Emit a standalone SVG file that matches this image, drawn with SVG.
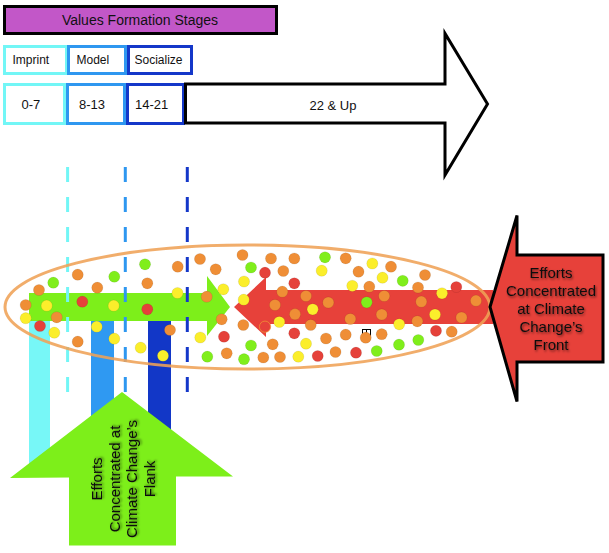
<svg xmlns="http://www.w3.org/2000/svg" width="609" height="553" viewBox="0 0 609 553">
<defs>
<style>
.t{font-family:"Liberation Sans",Arial,sans-serif;fill:#111}
.box{fill:#fff;stroke-width:3}
.dash{stroke-width:3;stroke-dasharray:15 15;fill:none}
.o{fill:#EF8E36}.y{fill:#FBEE2B}.g{fill:#80EE1B}.r{fill:#E5413A}
.dots circle{stroke:#000;stroke-opacity:0.08;stroke-width:1}
</style>
<filter id="sh" x="-20%" y="-20%" width="140%" height="140%">
<feDropShadow dx="1" dy="1.5" stdDeviation="1.3" flood-color="#000" flood-opacity="0.55"/>
</filter>
</defs>
<rect width="609" height="553" fill="#fff"/>

<g id="title">
<rect x="4.5" y="6.5" width="272" height="27" fill="#C257C8" stroke="#000" stroke-width="3"/>
<text class="t" x="140" y="25" font-size="14" text-anchor="middle">Values Formation Stages</text>
</g>

<g id="imprint">
<rect class="box" x="4.5" y="46.5" width="62" height="27" stroke="#72F6F6"/>
<text class="t" x="12.5" y="64" font-size="12">Imprint</text>
</g>
<g id="model">
<rect class="box" x="68.5" y="46.5" width="57" height="27" stroke="#2E97F0"/>
<text class="t" x="76.5" y="64" font-size="12">Model</text>
</g>
<g id="socialize">
<rect class="box" x="128.5" y="46.5" width="63" height="27" stroke="#1437C9"/>
<text class="t" x="134.5" y="64" font-size="12">Socialize</text>
</g>

<g id="age0-7">
<rect class="box" x="4.5" y="84.5" width="60" height="39" stroke="#72F6F6"/>
<text class="t" x="21.5" y="109" font-size="13">0-7</text>
</g>
<g id="age8-13">
<rect class="box" x="67.5" y="84.5" width="57" height="39" stroke="#2E97F0"/>
<text class="t" x="79" y="109" font-size="13">8-13</text>
</g>
<g id="age14-21">
<rect class="box" x="127.5" y="84.5" width="56" height="39" stroke="#1437C9"/>
<text class="t" x="135" y="109" font-size="13">14-21</text>
</g>
<g id="age22up">
<polygon points="185.5,84 445,84 445,33.5 487.5,104 445,175 445,123 185.5,123" fill="#fff" stroke="#000" stroke-width="3" stroke-linejoin="miter"/>
<text class="t" x="333" y="110" font-size="13" text-anchor="middle">22 &amp; Up</text>
</g>

<g id="bars">
<rect x="29" y="300" width="21" height="170" fill="#77F7F7"/>
<rect x="91" y="300" width="23" height="150" fill="#2F99F2"/>
<rect x="148" y="300" width="23" height="150" fill="#1237C7"/>
</g>

<g id="green-arrow">
<polygon points="29,293 207,293 207,276 230,307 207,336 207,321 29,321" fill="#7DEF1A"/>
</g>
<g id="red-arrow">
<polygon points="234,307 266,277 266,290 493,290 493,324 266,324 266,337" fill="#E7413A"/>
</g>

<g id="connectors">
<line class="dash" x1="67.6" y1="167" x2="67.6" y2="393" stroke="#72F6F6"/>
<line class="dash" x1="125.3" y1="167" x2="125.3" y2="393" stroke="#2E97F0"/>
<line class="dash" x1="187.3" y1="167" x2="187.3" y2="393" stroke="#1437C9"/>
</g>

<g id="ellipse">
<ellipse cx="247.5" cy="307" rx="242.5" ry="62" fill="none" stroke="#EFA256" stroke-opacity="0.88" stroke-width="3"/>
</g>

<rect x="362.5" y="329.5" width="8" height="8" fill="#fff" stroke="#000" stroke-width="1"/>
<line x1="366.5" y1="330" x2="366.5" y2="333" stroke="#000" stroke-width="1"/>

<g class="dots" id="dots">
<circle class="o" cx="39" cy="290" r="5.6"/>
<circle class="o" cx="77.7" cy="274.7" r="5.6"/>
<circle class="o" cx="97.3" cy="287.7" r="5.6"/>
<circle class="o" cx="147.3" cy="283.3" r="5.6"/>
<circle class="o" cx="25.7" cy="305" r="5.6"/>
<circle class="o" cx="56.7" cy="317.3" r="5.6"/>
<circle class="o" cx="77.7" cy="341.7" r="5.6"/>
<circle class="o" cx="170" cy="330" r="5.6"/>
<circle class="o" cx="177.7" cy="266.7" r="5.6"/>
<circle class="o" cx="200" cy="259" r="5.6"/>
<circle class="o" cx="215.7" cy="269.3" r="5.6"/>
<circle class="o" cx="206.7" cy="296.7" r="5.6"/>
<circle class="o" cx="221.7" cy="319.3" r="5.6"/>
<circle class="o" cx="226.7" cy="353.3" r="5.6"/>
<circle class="o" cx="242.5" cy="255" r="5.6"/>
<circle class="o" cx="243.3" cy="325" r="5.6"/>
<circle class="o" cx="271" cy="258.5" r="5.6"/>
<circle class="o" cx="294.3" cy="258.5" r="5.6"/>
<circle class="o" cx="283.3" cy="271" r="5.6"/>
<circle class="o" cx="282.3" cy="291.7" r="5.6"/>
<circle class="o" cx="306" cy="296" r="5.6"/>
<circle class="o" cx="328.3" cy="302.5" r="5.6"/>
<circle class="o" cx="275" cy="305" r="5.6"/>
<circle class="o" cx="295" cy="314.2" r="5.6"/>
<circle class="o" cx="310.7" cy="325" r="5.6"/>
<circle class="o" cx="272.7" cy="344.3" r="5.6"/>
<circle class="o" cx="263.3" cy="357.5" r="5.6"/>
<circle class="o" cx="280" cy="357" r="5.6"/>
<circle class="o" cx="345.7" cy="258.3" r="5.6"/>
<circle class="o" cx="358.5" cy="271.7" r="5.6"/>
<circle class="o" cx="391" cy="266.7" r="5.6"/>
<circle class="o" cx="425" cy="275" r="5.6"/>
<circle class="o" cx="369.3" cy="286.7" r="5.6"/>
<circle class="o" cx="418" cy="287.5" r="5.6"/>
<circle class="o" cx="384.2" cy="296" r="5.6"/>
<circle class="o" cx="421.3" cy="301.7" r="5.6"/>
<circle class="o" cx="476" cy="300.7" r="5.6"/>
<circle class="o" cx="350.3" cy="319" r="5.6"/>
<circle class="o" cx="381.7" cy="314.5" r="5.6"/>
<circle class="o" cx="417.3" cy="321.3" r="5.6"/>
<circle class="o" cx="461.5" cy="317.5" r="5.6"/>
<circle class="o" cx="451.7" cy="331.7" r="5.6"/>
<circle class="o" cx="326" cy="338.5" r="5.6"/>
<circle class="o" cx="345.7" cy="334.7" r="5.6"/>
<circle class="o" cx="365.7" cy="337.7" r="5.6"/>
<circle class="o" cx="381.7" cy="334.2" r="5.6"/>
<circle class="o" cx="335.5" cy="352" r="5.6"/>

<circle class="y" cx="46.7" cy="305.7" r="5.6"/>
<circle class="y" cx="113.7" cy="305.7" r="5.6"/>
<circle class="y" cx="25.7" cy="318.2" r="5.6"/>
<circle class="y" cx="54.3" cy="332.7" r="5.6"/>
<circle class="y" cx="96.7" cy="326.7" r="5.6"/>
<circle class="y" cx="114.3" cy="338.7" r="5.6"/>
<circle class="y" cx="140.7" cy="347.7" r="5.6"/>
<circle class="y" cx="163" cy="355.7" r="5.6"/>
<circle class="y" cx="177.5" cy="293" r="5.6"/>
<circle class="y" cx="223.3" cy="289.3" r="5.6"/>
<circle class="y" cx="200.3" cy="337.5" r="5.6"/>
<circle class="y" cx="244" cy="281.5" r="5.6"/>
<circle class="y" cx="243.7" cy="299.7" r="5.6"/>
<circle class="y" cx="321.7" cy="270.7" r="5.6"/>
<circle class="y" cx="312.7" cy="309.3" r="5.6"/>
<circle class="y" cx="279.3" cy="322" r="5.6"/>
<circle class="y" cx="306" cy="343.7" r="5.6"/>
<circle class="y" cx="298.3" cy="356.7" r="5.6"/>
<circle class="y" cx="372.3" cy="263.5" r="5.6"/>
<circle class="y" cx="382.5" cy="277.7" r="5.6"/>
<circle class="y" cx="352.3" cy="285.8" r="5.6"/>
<circle class="y" cx="442" cy="293.3" r="5.6"/>
<circle class="y" cx="435" cy="314.5" r="5.6"/>
<circle class="y" cx="399.2" cy="324.3" r="5.6"/>

<circle class="g" cx="53.3" cy="282.7" r="5.6"/>
<circle class="g" cx="114.3" cy="276.7" r="5.6"/>
<circle class="g" cx="145" cy="264.3" r="5.6"/>
<circle class="g" cx="207.3" cy="356.7" r="5.6"/>
<circle class="g" cx="244" cy="359.2" r="5.6"/>
<circle class="g" cx="251" cy="267.5" r="5.6"/>
<circle class="g" cx="251" cy="345.5" r="5.6"/>
<circle class="g" cx="325" cy="257.3" r="5.6"/>
<circle class="g" cx="402.7" cy="280.8" r="5.6"/>
<circle class="g" cx="366.7" cy="302.3" r="5.6"/>
<circle class="g" cx="418.3" cy="340" r="5.6"/>
<circle class="g" cx="399" cy="344.7" r="5.6"/>
<circle class="g" cx="376.7" cy="351" r="5.6"/>

<circle class="r" cx="82.3" cy="301.7" r="5.6"/>
<circle class="r" cx="147.3" cy="309.3" r="5.6"/>
<circle class="r" cx="40" cy="326" r="5.6"/>
<circle class="r" cx="224" cy="336.7" r="5.6"/>
<circle class="r" cx="265" cy="272.7" r="5.6"/>
<circle class="r" cx="294.3" cy="283.3" r="5.6"/>
<circle class="r" cx="265" cy="326.7" r="5.6" style="stroke:#EF8E36;stroke-opacity:0.8"/>
<circle class="r" cx="294.3" cy="333.3" r="5.6"/>
<circle class="r" cx="317.7" cy="356" r="5.6"/>
<circle class="r" cx="356" cy="352.7" r="5.6"/>
<circle class="r" cx="456.3" cy="287" r="5.6"/>
<circle class="r" cx="436" cy="330.8" r="5.6"/>
</g>

<g id="front-arrow">
<polygon points="490,307 517,215.5 517,255 603,255 603,362 517,362 517,401.5" fill="#E7413A" stroke="#000" stroke-width="3" stroke-linejoin="miter"/>
<g filter="url(#sh)" class="t" font-size="15" text-anchor="middle">
<text x="551" y="278">Efforts</text>
<text x="551" y="296">Concentrated</text>
<text x="551" y="314">at Climate</text>
<text x="551" y="332">Change’s</text>
<text x="551" y="350">Front</text>
</g>
</g>

<g id="flank-arrow">
<polygon points="122,392 233,476.5 176,476.5 176,545.5 69,545.5 69,477.5 10,478" fill="#7DEF1A"/>
<g transform="translate(123,479) rotate(-90)" filter="url(#sh)" class="t" font-size="15" text-anchor="middle">
<text x="0" y="-21">Efforts</text>
<text x="0" y="-3.5">Concentrated at</text>
<text x="0" y="14">Climate Change’s</text>
<text x="0" y="31.5">Flank</text>
</g>
</g>
</svg>
